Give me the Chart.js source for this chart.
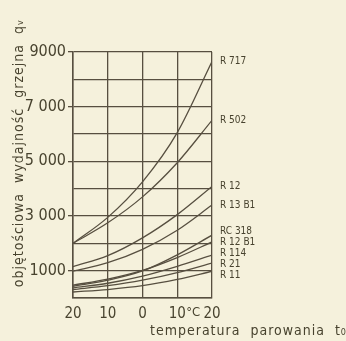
<!DOCTYPE html>
<html><head><meta charset="utf-8">
<script src="https://cdn.jsdelivr.net/npm/chart.js@4/dist/chart.umd.min.js"></script>
<style>html,body{margin:0;padding:0;background:#f5f1dc;}#wrap{width:346px;height:341px;position:relative;}</style>
</head><body><div id="wrap"><canvas id="c" width="346" height="341"></canvas></div>
<script>
// temperatures (°C)
const temps = [-20, -10, 0, 10, 20];
// series names
const names = ['R 717','R 502','R 12','R 13 B1','RC 318','R 12 B1','R 114','R 21','R 11'];
// volumetric heating capacity values
const r717  = [2000, 2950, 4250, 6050, 8650];
const r502  = [2000, 2750, 3700, 4950, 6500];
const r12   = [1150, 1550, 2200, 3050, 4080];
const r13b1 = [980, 1290, 1780, 2480, 3400];
const rc318 = [430, 650, 990, 1580, 2300];
const r12b1 = [470, 690, 1010, 1480, 2050];
const r114  = [370, 540, 800, 1160, 1570];
const r21   = [310, 450, 650, 930, 1280];
const r11   = [220, 310, 450, 680, 980];
const seriesValues = [r717, r502, r12, r13b1, rc318, r12b1, r114, r21, r11];
// tick labels
const yLabels = {1000:'1000', 3000:'3 000', 5000:'5 000', 7000:'7 000', 9000:'9000'};
const xTickValues = [-20, -10, 0, 10, 14.6, 20];
const xLabels = {'-20':'20', '-10':'10', '0':'0', '10':'10', '14.6':'°C', '20':'20'};
const yTitle = 'objętościowa  wydajność  grzejna  qᵥ';
const xTitle = 'temperatura  parowania  t₀';

const INK = '#574f40';
const TXT = '#48432f';
const BG = '#f5f1dc';
const FONT = '"DejaVu Sans Condensed", "DejaVu Sans"';

const datasets = seriesValues.map((vals, i) => ({
  label: names[i],
  data: temps.map((t, j) => ({x: t, y: vals[j]})),
  borderColor: INK,
  borderWidth: 1.3,
  pointRadius: 0,
  fill: false,
  cubicInterpolationMode: 'monotone'
}));

const bgPlugin = {
  id: 'bg',
  beforeDraw(chart) {
    const ctx = chart.ctx;
    ctx.save(); ctx.fillStyle = BG; ctx.fillRect(0, 0, chart.width, chart.height); ctx.restore();
  }
};

const labelPlugin = {
  id: 'labels',
  afterDraw(chart) {
    const ctx = chart.ctx;
    const ys = chart.scales.y;
    const area = chart.chartArea;
    let items = seriesValues.map((v, i) => ({name: names[i], y: ys.getPixelForValue(v[v.length - 1])}));
    items.sort((a, b) => a.y - b.y);
    const gap = 11;
    for (let it = 0; it < 60; it++) {
      for (let k = 0; k < items.length - 1; k++) {
        const d = items[k + 1].y - items[k].y;
        if (d < gap) { const m = (gap - d) / 2; items[k].y -= m; items[k + 1].y += m; }
      }
    }
    ctx.save();
    ctx.fillStyle = TXT;
    ctx.font = '10px ' + FONT;
    ctx.textBaseline = 'middle';
    ctx.textAlign = 'left';
    items.forEach(it => ctx.fillText(it.name, area.right + 8, it.y));
    ctx.font = '14px ' + FONT;
    ctx.letterSpacing = '1px';
    ctx.textAlign = 'center';
    ctx.save();
    ctx.translate(19, 153);
    ctx.rotate(-Math.PI / 2);
    ctx.fillText(yTitle, 0, 0);
    ctx.restore();
    ctx.textAlign = 'left';
    ctx.fillText(xTitle, 150, 331);
    ctx.restore();
  }
};

new Chart(document.getElementById('c'), {
  type: 'line',
  data: {datasets},
  options: {
    responsive: false,
    animation: false,
    events: [],
    layout: {padding: {left: 0, top: 52, right: 134, bottom: 0}},
    plugins: {legend: {display: false}, tooltip: {enabled: false}},
    scales: {
      x: {
        type: 'linear', min: -20, max: 20,
        afterFit(s) { s.height = 43; },
        afterBuildTicks(s) { s.ticks = xTickValues.map(v => ({value: v})); },
        border: {color: INK, width: 1.5},
        grid: {
          color: c => (c.tick && c.tick.value % 10 === 0) ? INK : 'rgba(0,0,0,0)',
          lineWidth: 1.3, drawTicks: false
        },
        ticks: {
          autoSkip: false, maxRotation: 0, padding: 7,
          color: TXT,
          font: c => ({family: FONT, size: (c.tick && c.tick.value % 10 !== 0) ? 13 : 15}),
          callback: v => (xLabels[String(v)] !== undefined ? xLabels[String(v)] : '')
        }
      },
      y: {
        min: 0, max: 9000,
        afterFit(s) { s.width = 73; },
        border: {color: INK, width: 1.5},
        grid: {
          color: INK, lineWidth: 1.3,
          tickColor: c => (c.tick && yLabels[c.tick.value]) ? INK : 'rgba(0,0,0,0)',
          tickLength: 5
        },
        ticks: {
          stepSize: 1000, autoSkip: false, padding: 2,
          color: TXT, font: {family: FONT, size: 16},
          callback: v => yLabels[v] || ''
        }
      }
    }
  },
  plugins: [bgPlugin, labelPlugin]
});
</script></body></html>
